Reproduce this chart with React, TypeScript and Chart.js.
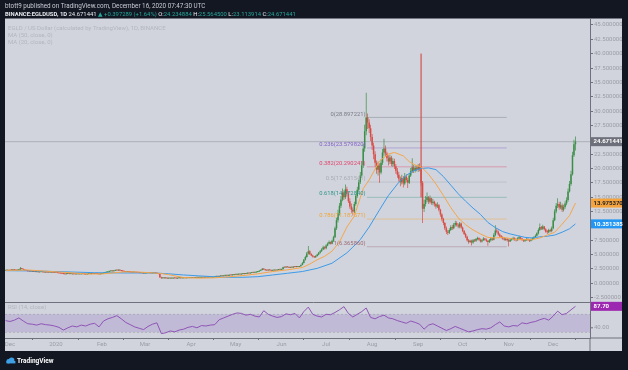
import { useEffect, useRef } from 'react';
import { Chart, registerables } from 'chart.js';

Chart.register(...registerables);

// ---------------- data (day index 0 = 2019-11-28, daily candles) ----------------
const FIRST_OPEN = 2.18;
const closes = [
  2.22, 2.28, 2.20, 2.31, 2.26, 2.35, 2.30, 2.24, 2.33, 2.38,
  2.62, 2.48, 2.36, 2.25, 2.18, 2.10, 2.04, 2.08, 1.98, 2.02,
  1.95, 1.99, 1.92, 1.96, 2.01, 1.94, 1.90, 1.93, 1.88, 1.92,
  1.86, 1.90, 1.84, 1.87, 1.82, 1.78, 1.75, 1.72, 1.68, 1.62,
  1.58, 1.64, 1.66, 1.61, 1.63, 1.58, 1.60, 1.56, 1.59, 1.62,
  1.57, 1.60, 1.63, 1.58, 1.55, 1.60, 1.64, 1.61, 1.66, 1.63,
  1.68, 1.65, 1.60, 1.56, 1.62, 1.70, 1.78, 1.86, 1.92, 2.00,
  2.08, 2.14, 2.10, 2.20, 2.26, 2.22, 2.30, 2.24, 2.15, 2.08,
  2.02, 1.98, 2.04, 1.96, 1.92, 1.88, 1.94, 1.90, 1.85, 1.82,
  1.78, 1.82, 1.76, 1.72, 1.75, 1.80, 1.84, 1.78, 1.74, 1.77,
  1.80, 1.76, 1.72, 1.62, 1.05, 0.88, 0.92, 0.86, 0.90, 0.84,
  0.87, 0.82, 0.85, 0.89, 0.86, 0.83, 0.88, 0.91, 0.87, 0.90,
  0.93, 0.89, 0.92, 0.95, 0.91, 0.94, 0.97, 0.93, 0.96, 0.99,
  0.95, 0.98, 1.02, 0.98, 1.01, 1.05, 1.00, 1.04, 1.08, 1.03,
  1.07, 1.12, 1.18, 1.15, 1.22, 1.27, 1.24, 1.30, 1.34, 1.31,
  1.36, 1.42, 1.38, 1.45, 1.50, 1.47, 1.53, 1.58, 1.55, 1.62,
  1.66, 1.62, 1.70, 1.75, 1.72, 1.80, 1.86, 1.82, 1.90, 1.96,
  2.05, 2.18, 2.30, 2.52, 2.40, 2.28, 2.22, 2.30, 2.26, 2.20,
  2.24, 2.30, 2.25, 2.32, 2.38, 2.34, 2.45, 2.80, 2.74, 2.86,
  2.78, 2.70, 2.82, 2.76, 2.88, 2.84, 2.92, 2.86, 2.95, 3.20,
  3.55, 4.10, 4.60, 5.20, 5.60, 5.10, 4.85, 4.65, 4.55, 4.75,
  5.00, 5.30, 5.60, 5.90, 6.30, 6.10, 6.60, 6.90, 7.20, 6.90,
  7.40, 8.00, 9.60, 11.00, 12.20, 13.50, 14.60, 15.80, 15.00, 16.40,
  15.60, 14.30, 13.40, 12.80, 12.50, 13.80, 15.20, 16.30, 17.60, 18.80,
  20.50, 23.50, 26.50, 28.897221, 28.00, 27.00, 25.50, 24.00, 22.50, 21.00,
  19.80, 20.50, 19.30, 21.00, 22.80, 23.50, 22.60, 21.80, 21.20, 21.90,
  20.80, 21.30, 20.40, 19.60, 18.90, 18.20, 17.60, 18.30, 17.40, 18.60,
  18.00, 17.50, 18.80, 19.50, 20.20, 19.60, 20.10, 19.80, 20.30, 19.90,
  17.50, 13.00, 13.80, 14.50, 15.00, 14.20, 14.80, 14.00, 14.20, 13.80,
  13.40, 13.60, 12.80, 12.00, 11.20, 10.50, 9.60, 9.00, 8.80, 9.30,
  9.80, 9.60, 10.20, 10.50, 10.10, 9.90, 10.40, 9.70, 9.10, 8.60,
  8.10, 7.50, 7.20, 7.40, 7.10, 7.50, 7.40, 7.70, 7.90, 7.60,
  7.30, 7.50, 7.80, 7.60, 7.40, 7.20, 7.50, 7.80, 7.60, 8.40,
  9.20, 9.00, 8.50, 8.20, 8.00, 7.80, 7.60, 7.70, 7.50, 7.30,
  7.60, 7.70, 7.90, 7.60, 7.50, 7.80, 8.00, 7.80, 7.60, 7.40,
  7.50, 7.70, 7.60, 7.40, 7.60, 7.80, 8.00, 8.30, 8.70, 9.30,
  9.80, 9.50, 9.90, 9.40, 9.00, 8.90, 9.30, 9.10, 9.60, 11.00,
  12.50, 13.50, 13.80, 13.20, 13.60, 12.80, 13.30, 13.90, 14.50, 16.00,
  17.30, 19.00, 22.30, 24.234884, 24.671441,
];
const highs = [
  2.27, 2.33, 2.31, 2.36, 2.34, 2.39, 2.38, 2.32, 2.37, 2.44,
  2.82, 2.66, 2.52, 2.40, 2.29, 2.21, 2.13, 2.12, 2.10, 2.06,
  2.05, 2.02, 2.02, 1.99, 2.05, 2.04, 1.97, 1.96, 1.95, 1.95,
  1.95, 1.93, 1.92, 1.90, 1.89, 1.85, 1.81, 1.78, 1.74, 1.70,
  1.65, 1.67, 1.70, 1.68, 1.66, 1.65, 1.63, 1.62, 1.62, 1.65,
  1.64, 1.62, 1.66, 1.65, 1.60, 1.63, 1.67, 1.66, 1.69, 1.68,
  1.71, 1.70, 1.67, 1.62, 1.65, 1.74, 1.82, 1.90, 1.97, 2.05,
  2.13, 2.19, 2.18, 2.25, 2.32, 2.30, 2.38, 2.34, 2.28, 2.19,
  2.11, 2.06, 2.08, 2.07, 2.00, 1.95, 1.97, 1.97, 1.93, 1.88,
  1.85, 1.85, 1.84, 1.79, 1.78, 1.83, 1.88, 1.87, 1.81, 1.80,
  1.84, 1.83, 1.79, 1.75, 1.65, 1.12, 0.97, 0.96, 0.93, 0.93,
  0.91, 0.90, 0.88, 0.92, 0.91, 0.89, 0.91, 0.95, 0.93, 0.93,
  0.96, 0.95, 0.94, 0.98, 0.97, 0.96, 1.00, 0.99, 0.98, 1.02,
  1.01, 1.00, 1.05, 1.04, 1.03, 1.08, 1.07, 1.06, 1.11, 1.10,
  1.10, 1.15, 1.21, 1.20, 1.25, 1.31, 1.29, 1.33, 1.38, 1.36,
  1.39, 1.46, 1.45, 1.48, 1.54, 1.52, 1.56, 1.62, 1.60, 1.66,
  1.70, 1.69, 1.73, 1.79, 1.78, 1.83, 1.90, 1.89, 1.94, 2.00,
  2.10, 2.24, 2.36, 2.66, 2.58, 2.44, 2.32, 2.35, 2.34, 2.29,
  2.28, 2.34, 2.33, 2.36, 2.42, 2.41, 2.50, 2.88, 2.85, 2.92,
  2.90, 2.82, 2.86, 2.85, 2.92, 2.91, 2.96, 2.95, 2.99, 3.28,
  3.70, 4.25, 4.80, 5.45, 6.50, 5.75, 5.25, 4.98, 4.75, 4.90,
  5.15, 5.45, 5.80, 6.10, 6.55, 6.45, 6.80, 7.10, 7.45, 7.30,
  7.60, 8.30, 9.90, 11.40, 12.80, 14.00, 15.20, 16.50, 16.20, 17.20,
  16.80, 16.00, 14.80, 13.90, 13.20, 14.20, 15.60, 16.80, 18.10, 19.40,
  21.20, 24.30, 27.60, 33.20, 29.60, 28.60, 27.60, 26.00, 24.50, 23.00,
  21.40, 21.20, 20.90, 21.60, 23.40, 25.20, 24.00, 22.90, 22.30, 22.40,
  22.20, 21.80, 21.70, 20.80, 20.10, 19.40, 18.60, 18.90, 18.70, 19.20,
  19.00, 18.40, 19.20, 20.10, 21.80, 20.60, 20.50, 20.40, 20.80, 20.90,
  20.40, 17.80, 14.60, 15.20, 15.80, 15.20, 15.30, 14.90, 14.70, 14.40,
  14.00, 14.10, 13.80, 13.00, 12.20, 11.40, 10.70, 9.90, 9.30, 9.60,
  10.10, 10.20, 10.50, 10.90, 10.80, 10.40, 10.70, 10.60, 9.90, 9.30,
  8.80, 8.30, 7.70, 7.60, 7.60, 7.70, 7.70, 7.90, 8.10, 8.00,
  7.80, 7.70, 8.00, 7.90, 7.80, 7.50, 7.70, 8.00, 7.90, 8.70,
  10.10, 9.60, 9.20, 8.70, 8.40, 8.20, 8.00, 7.90, 7.90, 7.70,
  7.80, 7.90, 8.10, 8.00, 7.80, 8.00, 8.30, 8.10, 7.90, 7.70,
  7.70, 7.90, 7.80, 7.70, 7.80, 8.00, 8.20, 8.50, 8.90, 9.60,
  10.40, 10.00, 10.20, 10.00, 9.60, 9.30, 9.50, 9.50, 9.90, 11.40,
  12.90, 14.00, 14.80, 14.20, 14.20, 13.90, 13.70, 14.30, 15.00, 16.50,
  17.80, 19.60, 22.90, 25.00, 25.5645,
];
const lows = [
  2.15, 2.18, 2.16, 2.17, 2.22, 2.23, 2.27, 2.20, 2.21, 2.30,
  2.35, 2.44, 2.32, 2.21, 2.14, 2.06, 2.00, 2.01, 1.95, 1.95,
  1.92, 1.93, 1.89, 1.90, 1.93, 1.91, 1.87, 1.88, 1.85, 1.86,
  1.83, 1.84, 1.81, 1.82, 1.79, 1.75, 1.71, 1.69, 1.65, 1.58,
  1.54, 1.56, 1.62, 1.58, 1.59, 1.55, 1.56, 1.53, 1.54, 1.57,
  1.54, 1.55, 1.58, 1.55, 1.52, 1.53, 1.58, 1.58, 1.59, 1.60,
  1.61, 1.62, 1.57, 1.52, 1.54, 1.60, 1.67, 1.75, 1.83, 1.89,
  1.96, 2.04, 2.05, 2.07, 2.16, 2.18, 2.19, 2.20, 2.11, 2.03,
  1.98, 1.94, 1.95, 1.93, 1.89, 1.84, 1.85, 1.87, 1.82, 1.78,
  1.74, 1.75, 1.73, 1.68, 1.69, 1.72, 1.77, 1.75, 1.70, 1.71,
  1.73, 1.72, 1.68, 1.58, 0.92, 0.78, 0.84, 0.82, 0.83, 0.80,
  0.81, 0.79, 0.80, 0.83, 0.84, 0.80, 0.81, 0.86, 0.85, 0.85,
  0.88, 0.87, 0.87, 0.90, 0.89, 0.89, 0.92, 0.91, 0.91, 0.94,
  0.93, 0.93, 0.96, 0.96, 0.96, 0.99, 0.98, 0.98, 1.02, 1.01,
  1.01, 1.05, 1.10, 1.13, 1.13, 1.20, 1.21, 1.22, 1.28, 1.28,
  1.29, 1.33, 1.35, 1.36, 1.42, 1.44, 1.45, 1.51, 1.52, 1.53,
  1.59, 1.59, 1.60, 1.68, 1.69, 1.70, 1.78, 1.79, 1.80, 1.87,
  1.93, 2.01, 2.14, 2.26, 2.35, 2.24, 2.17, 2.19, 2.22, 2.16,
  2.17, 2.21, 2.22, 2.22, 2.29, 2.31, 2.31, 2.42, 2.69, 2.70,
  2.74, 2.66, 2.68, 2.72, 2.73, 2.80, 2.81, 2.83, 2.83, 2.92,
  3.15, 3.45, 3.95, 4.45, 5.00, 4.95, 4.70, 4.50, 4.40, 4.45,
  4.65, 4.90, 5.20, 5.50, 5.80, 5.90, 5.95, 6.45, 6.80, 6.75,
  6.80, 7.20, 7.90, 9.30, 10.60, 11.80, 13.10, 14.30, 14.50, 14.70,
  15.10, 14.00, 13.00, 12.30, 11.80, 12.20, 13.50, 14.90, 16.00, 17.30,
  18.40, 20.10, 22.90, 25.80, 26.90, 26.20, 24.80, 23.20, 21.60, 20.30,
  19.10, 18.80, 17.50, 19.00, 20.60, 22.20, 22.00, 21.20, 20.50, 20.80,
  20.40, 20.30, 19.90, 19.10, 18.40, 17.70, 16.90, 17.20, 16.70, 17.10,
  17.60, 16.60, 17.30, 18.50, 19.20, 19.20, 19.30, 19.50, 19.40, 19.50,
  17.00, 10.50, 12.40, 13.40, 14.10, 13.80, 13.90, 13.70, 13.60, 13.40,
  13.00, 13.10, 12.50, 11.60, 10.80, 10.10, 9.30, 8.60, 8.40, 8.60,
  9.10, 9.30, 9.40, 9.90, 9.90, 9.60, 9.60, 9.50, 8.90, 8.40,
  7.90, 7.30, 6.90, 7.00, 6.60, 6.90, 7.20, 7.20, 7.50, 7.40,
  7.10, 7.10, 7.40, 7.40, 7.20, 6.55, 7.00, 7.30, 7.40, 7.50,
  8.20, 8.70, 8.30, 8.00, 7.80, 7.60, 7.40, 7.40, 7.30, 6.40,
  7.20, 7.40, 7.50, 7.40, 7.30, 7.40, 7.70, 7.60, 7.40, 7.20,
  7.20, 7.40, 7.40, 7.20, 7.30, 7.50, 7.70, 7.90, 8.20, 8.50,
  9.10, 9.30, 9.30, 9.20, 8.80, 8.60, 8.70, 8.90, 8.90, 9.40,
  10.80, 12.20, 13.10, 12.80, 12.90, 12.40, 12.50, 13.00, 13.60, 14.20,
  15.80, 17.00, 18.80, 22.00, 23.113914,
];
// 24/7 market: each daily open is the previous daily close
const opens = [FIRST_OPEN, ...closes.slice(0, -1)];

const ma50Days = [0, 20, 40, 60, 80, 100, 110, 120, 130, 140, 150, 160, 170, 180, 190, 200, 210, 220, 230, 234, 239, 245, 252, 258, 265, 270, 275, 280, 285, 290, 295, 300, 305, 310, 315, 320, 325, 330, 335, 340, 345, 350, 355, 360, 365, 370, 375, 380, 384];
const ma50Values = [2.2, 2.15, 2.0, 1.85, 1.8, 1.8, 1.65, 1.45, 1.3, 1.15, 1.05, 1.05, 1.15, 1.45, 1.75, 2.05, 2.6, 3.5, 5.3, 6.3, 7.6, 9.8, 12.8, 15.3, 17.6, 18.8, 19.6, 20.0, 20.1, 19.8, 18.6, 17.1, 15.6, 14.3, 13.1, 12.0, 10.6, 9.7, 9.0, 8.6, 8.3, 8.0, 7.9, 8.1, 8.2, 8.4, 8.9, 9.5, 10.351385];
const ma20Days = [0, 10, 15, 25, 40, 55, 65, 72, 80, 90, 100, 105, 110, 120, 130, 140, 150, 160, 170, 180, 190, 200, 205, 210, 215, 220, 225, 230, 235, 241, 245, 252, 258, 262, 268, 272, 276, 280, 285, 290, 295, 300, 305, 310, 315, 320, 325, 330, 335, 340, 345, 350, 355, 360, 365, 370, 375, 380, 384];
const ma20Values = [2.25, 2.28, 2.32, 2.15, 1.9, 1.62, 1.63, 1.8, 2.0, 1.95, 1.8, 1.7, 1.5, 1.0, 0.9, 0.95, 1.12, 1.35, 1.65, 2.05, 2.35, 2.75, 3.35, 4.1, 4.7, 5.6, 7.2, 9.8, 11.7, 16.5, 18.0, 21.3, 22.5, 22.8, 22.2, 21.2, 20.6, 20.3, 19.0, 17.3, 15.3, 13.2, 11.4, 10.2, 9.3, 8.6, 8.0, 7.9, 8.0, 7.8, 7.6, 7.6, 7.6, 7.9, 8.4, 8.9, 10.3, 11.8, 13.97537];

const RSI_STEP = 3; // one RSI reading every 3 days
const rsiValues = [
  56, 54, 57, 62, 55, 49, 48, 46, 49, 47,
  46, 44, 41, 35, 40, 44, 42, 46, 44, 48,
  50, 42, 55, 60, 63, 67, 60, 52, 47, 42,
  39, 36, 43, 48, 51, 27, 29, 33, 31, 35,
  37, 41, 43, 40, 45, 44, 46, 47, 58, 62,
  66, 70, 73, 72, 68, 70, 66, 64, 78, 70,
  66, 63, 65, 71, 69, 72, 62, 76, 86, 70,
  66, 64, 70, 69, 74, 80, 87, 72, 64, 70,
  76, 84, 63, 60, 65, 68, 62, 60, 56, 53,
  50, 55, 52, 48, 37, 46, 49, 44, 39, 34,
  38, 43, 39, 35, 31, 33, 36, 38, 37, 40,
  47, 53, 44, 42, 45, 44, 51, 49, 52, 54,
  58, 61, 57, 66, 77, 69, 72, 80, 87.7,
];
const RSI_UPPER = 70;
const RSI_LOWER = 30;

const fibRatios = ['0', '0.236', '0.382', '0.5', '0.618', '0.786', '1'];
const fibLevels = [28.897221, 23.57982, 20.290241, 17.631541, 14.97284, 11.187571, 6.36586];
const fibStartDay = 243.5;
const fibEndDay = 337.7;

const markerDay = 280;
const markerFrom = 40;
const markerTo = 15;

const timeTickDays = [3, 34, 65, 94, 125, 155, 186, 216, 247, 278, 308, 339, 369];
const timeTickLabels = ['Dec', '2020', 'Feb', 'Mar', 'Apr', 'May', 'Jun', 'Jul', 'Aug', 'Sep', 'Oct', 'Nov', 'Dec'];
const priceTicks = [45, 42.5, 40, 37.5, 35, 32.5, 30, 27.5, 22.5, 20, 17.5, 15, 12.5, 7.5, 5, 2.5, 0, -2.5];
const rsiTicks = [40];

const PUBLISH_LINE = 'btott9 published on TradingView.com, December 16, 2020 07:47:30 UTC';
const headerSegments: [string, string, boolean][] = [
  ['BINANCE:EGLDUSD, 1D', '#e8eaef', true],
  [' 24.671441 ', '#e8eaef', false],
  ['\u25B2 +0.397289 (+1.64%)', '#26a69a', false],
  [' O:', '#e8eaef', false],
  ['24.234884', '#26a69a', false],
  [' H:', '#e8eaef', false],
  ['25.564500', '#26a69a', false],
  [' L:', '#e8eaef', false],
  ['23.113914', '#26a69a', false],
  [' C:', '#e8eaef', false],
  ['24.671441', '#26a69a', false],
];
const legendLines = ['EGLD / US Dollar (calculated by TradingView), 1D, BINANCE', 'MA (50, close, 0)', 'MA (20, close, 0)'];
const RSI_LEGEND = 'RSI (14, close)';

// ---------------- view range ----------------
const X_MIN = -0.35;
const X_MAX = 393.8;
const Y_MIN = -9.53;
const Y_MAX = 46.13;
const R_MIN = 17.33;
const R_MAX = 727.3;
const RSI_PANE_TOP = 97.3;

// ---------------- style ----------------
const FONT = 'Roboto, "DejaVu Sans", sans-serif';
const DARK = '#131722';
const PANE_BG = '#d1d4dc';
const SEP = '#6f727c';
const AXIS_TEXT = '#9a9da6';
const LEGEND_TEXT = '#b3b6bf';
const UP = '#3b8e47';
const DOWN = '#d94b45';
const MA50_COLOR = '#3d9ae8';
const MA20_COLOR = '#f5a54a';
const RSI_COLOR = '#8f55b5';
const fibColors = ['#787b86', '#8461c8', '#e0456e', '#a9acb5', '#2f9488', '#f0a53a', '#9c6b78'];
const fibLineColors = ['rgba(120,123,134,0.55)', 'rgba(132,97,200,0.5)', 'rgba(224,69,110,0.5)', 'rgba(169,172,181,0.6)', 'rgba(47,148,136,0.45)', 'rgba(240,165,58,0.55)', 'rgba(156,107,120,0.5)'];

const font = (size: number, weight = 'normal') => `${weight} ${size}px ${FONT}`;

const decorPlugin = {
  id: 'decor',
  beforeDraw(chart: any) {
    const { ctx, chartArea: ca, scales } = chart;
    ctx.save();
    ctx.fillStyle = DARK;
    ctx.fillRect(0, 0, chart.width, chart.height);
    ctx.fillStyle = PANE_BG;
    ctx.fillRect(ca.left, ca.top, scales.y.right - ca.left, scales.x.bottom - ca.top);
    ctx.restore();
  },
  afterDraw(chart: any) {
    const { ctx, chartArea: ca, scales } = chart;
    const { x, y, yr } = scales;
    const axisRight = y.right;
    const axisBottom = x.bottom;
    ctx.save();

    // pane separators and axis lines
    ctx.strokeStyle = SEP;
    ctx.lineWidth = 1;
    const split = Math.round(yr.getPixelForValue(RSI_PANE_TOP)) + 0.5;
    ctx.beginPath();
    ctx.moveTo(ca.left, split); ctx.lineTo(axisRight, split);
    ctx.moveTo(ca.right, ca.bottom); ctx.lineTo(axisRight, ca.bottom);
    ctx.moveTo(ca.right, ca.bottom); ctx.lineTo(ca.right, axisBottom);
    ctx.stroke();

    // header
    ctx.textBaseline = 'middle';
    ctx.textAlign = 'left';
    ctx.font = font(6.3);
    ctx.fillStyle = '#c9ccd4';
    ctx.fillText(PUBLISH_LINE, 5, 6.5);
    let hx = 5;
    for (const [txt, color, bold] of headerSegments) {
      ctx.font = font(5.9, bold ? 'bold' : 'normal');
      ctx.fillStyle = color;
      ctx.fillText(txt, hx, 15);
      hx += ctx.measureText(txt).width;
    }

    // legend in the panes
    ctx.font = font(6);
    ctx.fillStyle = LEGEND_TEXT;
    legendLines.forEach((t, i) => ctx.fillText(t, 8, ca.top + 9.8 + i * 7.2));
    ctx.fillText(RSI_LEGEND, 8, split + 5);

    // fib labels
    ctx.textAlign = 'right';
    ctx.font = font(5.8);
    const fx = x.getPixelForValue(fibStartDay) - 1.5;
    fibLevels.forEach((lvl, i) => {
      ctx.fillStyle = fibColors[i];
      ctx.fillText(`${fibRatios[i]}(${lvl.toFixed(6)})`, fx, y.getPixelForValue(lvl) - 3.3);
    });

    // RSI axis ticks
    ctx.textAlign = 'left';
    ctx.font = font(6);
    ctx.fillStyle = AXIS_TEXT;
    ctx.strokeStyle = SEP;
    rsiTicks.forEach((v) => {
      const py = yr.getPixelForValue(v);
      ctx.beginPath();
      ctx.moveTo(ca.right, py); ctx.lineTo(ca.right + 3, py);
      ctx.stroke();
      ctx.fillText(v.toFixed(2), ca.right + 4, py);
    });

    // value badges on the price scale
    const badge = (py: number, text: string, bg: string, fg: string) => {
      ctx.fillStyle = bg;
      ctx.fillRect(ca.right + 1, py - 4.5, axisRight - ca.right - 1, 9);
      ctx.fillStyle = fg;
      ctx.font = font(6, 'bold');
      ctx.fillText(text, ca.right + 3.5, py + 0.3);
    };
    const last = closes.length - 1;
    badge(y.getPixelForValue(closes[last]), closes[last].toFixed(6), '#6d707a', '#ffffff');
    badge(y.getPixelForValue(ma20Values[ma20Values.length - 1]), ma20Values[ma20Values.length - 1].toFixed(6), '#f5a33c', '#1c1f28');
    badge(y.getPixelForValue(ma50Values[ma50Values.length - 1]), ma50Values[ma50Values.length - 1].toFixed(6), '#2196f3', '#ffffff');
    badge(yr.getPixelForValue(rsiValues[rsiValues.length - 1]), rsiValues[rsiValues.length - 1].toFixed(2), '#9c27b0', '#ffffff');

    // footer logo
    ctx.fillStyle = '#3ea1e6';
    ctx.beginPath();
    ctx.arc(8.6, 361.2, 2.2, 0, Math.PI * 2);
    ctx.arc(11.6, 360.2, 2.8, 0, Math.PI * 2);
    ctx.fill();
    ctx.fillRect(6.4, 361, 9, 2.4);
    ctx.fillStyle = '#ffffff';
    ctx.font = font(6.5, 'bold');
    ctx.textAlign = 'left';
    ctx.fillText('TradingView', 17, 361.5);
    ctx.restore();
  },
};

export default function App() {
  const ref = useRef<HTMLCanvasElement>(null);
  useEffect(() => {
    const candleColors = closes.map((c, i) => (c >= opens[i] ? UP : DOWN));
    const fullSpan = (v: number) => [{ x: X_MIN, y: v }, { x: X_MAX, y: v }];
    const datasets: any[] = [
      {
        type: 'line', label: 'RSI', yAxisID: 'yr', order: 0,
        data: rsiValues.map((v, i) => ({ x: i * RSI_STEP, y: v })),
        borderColor: RSI_COLOR, borderWidth: 1, pointRadius: 0,
      },
      {
        type: 'line', label: 'MA20', yAxisID: 'y', order: 1,
        data: ma20Days.map((d, i) => ({ x: d, y: ma20Values[i] })),
        borderColor: MA20_COLOR, borderWidth: 1, pointRadius: 0,
      },
      {
        type: 'line', label: 'MA50', yAxisID: 'y', order: 1,
        data: ma50Days.map((d, i) => ({ x: d, y: ma50Values[i] })),
        borderColor: MA50_COLOR, borderWidth: 1, pointRadius: 0,
      },
      {
        type: 'line', label: 'marker', yAxisID: 'y', order: 2,
        data: [{ x: markerDay, y: markerFrom }, { x: markerDay, y: markerTo }],
        borderColor: 'rgba(217,83,79,0.75)', borderWidth: 0.7, pointRadius: 0,
      },
      {
        type: 'bar', label: 'body', yAxisID: 'y', order: 3,
        data: closes.map((c, i) => ({ x: i, y: [opens[i], c] })),
        backgroundColor: candleColors, barThickness: 1.5, minBarLength: 1,
        grouped: false, inflateAmount: 0, borderWidth: 0,
      },
      {
        type: 'bar', label: 'wick', yAxisID: 'y', order: 4,
        data: closes.map((_, i) => ({ x: i, y: [lows[i], highs[i]] })),
        backgroundColor: candleColors, barThickness: 0.7,
        grouped: false, inflateAmount: 0, borderWidth: 0,
      },
      ...fibLevels.map((lvl, i) => ({
        type: 'line', label: `fib ${fibRatios[i]}`, yAxisID: 'y', order: 5,
        data: [{ x: fibStartDay, y: lvl }, { x: fibEndDay, y: lvl }],
        borderColor: fibLineColors[i], borderWidth: 0.8, pointRadius: 0,
      })),
      {
        type: 'line', label: 'last price', yAxisID: 'y', order: 6,
        data: fullSpan(closes[closes.length - 1]),
        borderColor: 'rgba(110,113,124,0.45)', borderWidth: 0.8, pointRadius: 0,
      },
      {
        type: 'line', label: 'rsi upper', yAxisID: 'yr', order: 7,
        data: fullSpan(RSI_UPPER), fill: '+1',
        backgroundColor: 'rgba(126,87,194,0.2)',
        borderColor: 'rgba(120,123,134,0.4)', borderWidth: 0.8, borderDash: [2, 2], pointRadius: 0,
      },
      {
        type: 'line', label: 'rsi lower', yAxisID: 'yr', order: 7,
        data: fullSpan(RSI_LOWER),
        borderColor: 'rgba(120,123,134,0.4)', borderWidth: 0.8, borderDash: [2, 2], pointRadius: 0,
      },
    ];

    const chart = new Chart(ref.current as HTMLCanvasElement, {
      type: 'bar',
      data: { datasets },
      plugins: [decorPlugin],
      options: {
        responsive: false,
        animation: false,
        devicePixelRatio: 1,
        events: [],
        layout: { padding: { left: 5, top: 18.5, right: 6, bottom: 19 } },
        plugins: { legend: { display: false }, tooltip: { enabled: false } },
        scales: {
          x: {
            type: 'linear', min: X_MIN, max: X_MAX, offset: false, position: 'bottom',
            afterBuildTicks: (s: any) => { s.ticks = timeTickDays.map((v) => ({ value: v })); },
            afterFit: (s: any) => { s.height = 13; s.paddingLeft = 0; s.paddingRight = 0; s.paddingTop = 0; s.paddingBottom = 0; },
            ticks: {
              callback: (_v: any, i: number) => timeTickLabels[i],
              font: { family: FONT, size: 6 }, color: AXIS_TEXT, padding: 1,
              maxRotation: 0, autoSkip: false,
            },
            grid: { drawOnChartArea: false, drawTicks: true, tickLength: 2, color: SEP },
            border: { display: true, color: SEP },
          },
          y: {
            type: 'linear', position: 'right', min: Y_MIN, max: Y_MAX,
            afterBuildTicks: (s: any) => { s.ticks = priceTicks.map((v) => ({ value: v })); },
            afterFit: (s: any) => { s.width = 32; s.paddingTop = 0; s.paddingBottom = 0; },
            ticks: {
              callback: (v: any) => Number(v).toFixed(6),
              font: { family: FONT, size: 6 }, color: AXIS_TEXT, padding: 1,
            },
            grid: { drawOnChartArea: false, drawTicks: true, tickLength: 3, color: SEP },
            border: { display: true, color: SEP },
          },
          yr: { type: 'linear', display: false, min: R_MIN, max: R_MAX },
        },
      } as any,
    });
    return () => chart.destroy();
  }, []);

  return (
    <div style={{ position: 'absolute', left: 0, top: 0, width: 628, height: 370 }}>
      <canvas ref={ref} width={628} height={370} style={{ display: 'block', width: 628, height: 370 }} />
    </div>
  );
}
